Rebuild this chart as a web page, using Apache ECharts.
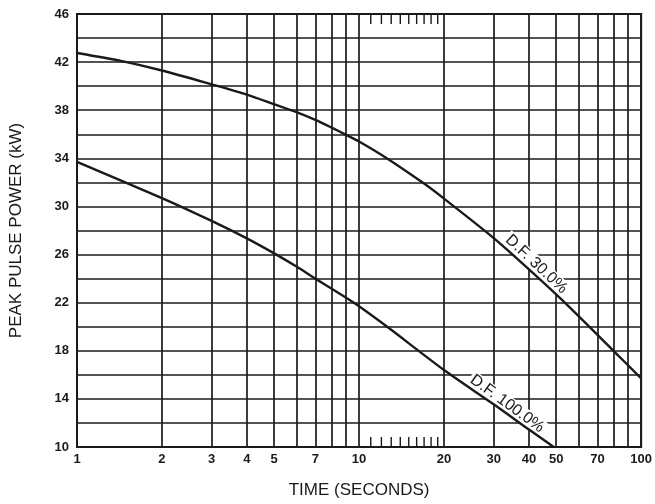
<!DOCTYPE html>
<html>
<head>
<meta charset="utf-8">
<script src="https://cdn.jsdelivr.net/npm/echarts@6/dist/echarts.min.js"></script>
<style>
html,body{margin:0;padding:0;background:#fff;}
#chart{width:655px;height:504px;}
</style>
</head>
<body>
<div id="chart"></div>
<script>
// ---- data ----
var df30Time  = [1, 1.43, 2, 3, 4, 5, 6, 7, 8, 9, 10, 12.65, 17, 20, 28.5, 33.3, 51.5, 79.8, 100];
var df30Power = [42.76, 42.1, 41.3, 40.15, 39.3, 38.5, 37.85, 37.2, 36.55, 35.95, 35.4, 33.95, 31.9, 30.65, 27.8, 26.45, 22.4, 18.0, 15.7];

var df100Time  = [1, 2, 3, 4, 5, 6, 7, 8, 9, 10, 12.65, 20, 30, 40, 49];
var df100Power = [33.7, 30.7, 28.8, 27.35, 26.1, 25.0, 24.0, 23.15, 22.4, 21.7, 19.95, 16.4, 13.55, 11.45, 10.0];

var xGridValues  = [1, 2, 3, 4, 5, 6, 7, 8, 9, 10, 20, 30, 40, 50, 60, 70, 80, 90, 100];
var xLabelValues = [1, 2, 3, 4, 5, 7, 10, 20, 30, 40, 50, 70, 100];
var minorTickValues = [11, 12, 13, 14, 15, 16, 17, 18, 19];

var labelDF30  = {text: 'D.F. 30.0%',  time: 42.5, power: 25.2};
var labelDF100 = {text: 'D.F. 100.0%', time: 33.5, power: 13.6};

function zip(a, b) { return a.map(function (v, i) { return [v, b[i]]; }); }

var chart = echarts.init(document.getElementById('chart'), null, {renderer: 'canvas'});
var ink = '#1a1a1a';

chart.setOption({
  animation: false,
  backgroundColor: '#fff',
  textStyle: {fontFamily: 'Liberation Sans, Arial, sans-serif'},
  grid: {left: 77, right: 10, top: 14, bottom: 55, show: true, borderColor: ink, borderWidth: 2, backgroundColor: 'transparent'},
  xAxis: {
    type: 'log', logBase: 10, min: 1, max: 100,
    name: 'TIME (SECONDS)', nameLocation: 'middle', nameGap: 35,
    nameTextStyle: {fontSize: 17, color: ink, fontFamily: 'Liberation Sans'},
    axisLine: {show: true, lineStyle: {color: ink, width: 2}},
    axisTick: {show: false, customValues: xGridValues},
    axisLabel: {customValues: xLabelValues, margin: 6, fontSize: 13, fontWeight: 'bold', color: ink, fontFamily: 'Liberation Sans'},
    splitLine: {show: true, lineStyle: {color: ink, width: 1.7}},
    minorTick: {show: false}, minorSplitLine: {show: false}
  },
  yAxis: {
    type: 'value', min: 10, max: 46, interval: 2,
    name: 'PEAK PULSE POWER (kW)', nameLocation: 'middle', nameGap: 52,
    nameTextStyle: {fontSize: 17, color: ink, fontFamily: 'Liberation Sans'},
    axisLine: {show: true, lineStyle: {color: ink, width: 2}},
    axisTick: {show: false},
    axisLabel: {margin: 8, fontSize: 13, fontWeight: 'bold', color: ink, fontFamily: 'Liberation Sans',
      formatter: function (v) { return ((v - 10) % 4 === 0) ? String(v) : ''; }},
    splitLine: {show: true, lineStyle: {color: ink, width: 1.7}}
  },
  series: [
    {
      name: 'D.F. 30.0%', type: 'line', data: zip(df30Time, df30Power),
      smooth: 0.25, symbol: 'none', lineStyle: {color: ink, width: 2.4, join: 'round'}, z: 5,
      markPoint: {
        symbol: 'circle', symbolSize: 0, silent: true,
        label: {show: true, position: 'inside', formatter: labelDF30.text, rotate: -43,
          fontSize: 16, color: ink, backgroundColor: '#fff', padding: [0, 2], fontFamily: 'Liberation Sans'},
        data: [{coord: [labelDF30.time, labelDF30.power]}]
      }
    },
    {
      name: 'D.F. 100.0%', type: 'line', data: zip(df100Time, df100Power),
      smooth: 0.25, symbol: 'none', lineStyle: {color: ink, width: 2.4, join: 'round'}, z: 5,
      markPoint: {
        symbol: 'circle', symbolSize: 0, silent: true,
        label: {show: true, position: 'inside', formatter: labelDF100.text, rotate: -36,
          fontSize: 16, color: ink, backgroundColor: '#fff', padding: [0, 2], fontFamily: 'Liberation Sans'},
        data: [{coord: [labelDF100.time, labelDF100.power]}]
      }
    },
    {
      name: 'minor ticks', type: 'custom', silent: true, z: 4,
      data: minorTickValues.map(function (v) { return [v]; }),
      encode: {x: 0},
      renderItem: function (params, api) {
        var top = api.coord([api.value(0), 46]);
        var bot = api.coord([api.value(0), 10]);
        var len = 10;
        return {
          type: 'group',
          children: [
            {type: 'line', shape: {x1: top[0], y1: top[1], x2: top[0], y2: top[1] + len}, style: {stroke: ink, lineWidth: 1.4}},
            {type: 'line', shape: {x1: bot[0], y1: bot[1], x2: bot[0], y2: bot[1] - len}, style: {stroke: ink, lineWidth: 1.4}}
          ]
        };
      }
    }
  ]
});
</script>
</body>
</html>
